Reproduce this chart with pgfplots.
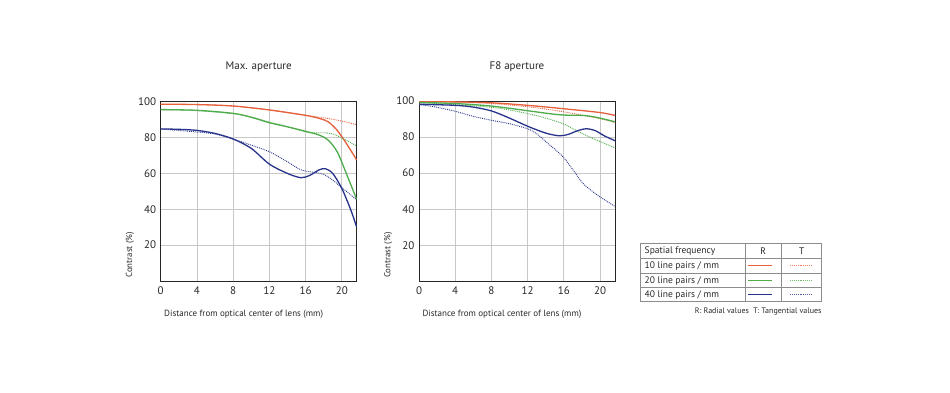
\documentclass[border=0pt]{standalone}
\usepackage{pgfplots}
\pgfplotsset{compat=1.18}
\usepackage{fontspec}
\setmainfont{PT Sans}
\definecolor{lred}{RGB}{230,96,60}
\definecolor{lgreen}{RGB}{78,172,74}
\definecolor{lblue}{RGB}{40,52,140}
\definecolor{ctxt}{RGB}{40,40,40}
\definecolor{cgrid}{RGB}{200,200,200}
\pgfplotsset{
  mtf/.style={
    scale only axis, width=196pt, height=179.3pt,
    xmin=0, xmax=21.65, ymin=0, ymax=100,
    xtick={0,4,8,12,16,20}, ytick={20,40,60,80,100},
    grid=major, major grid style={cgrid, line width=0.8pt},
    axis line style={black!85, line width=0.9pt},
    major tick length=0pt,
    /pgf/number format/assume math mode=true,
    tick label style={font=\fontsize{11}{12}\selectfont, text=ctxt},
    xticklabel style={yshift=-2pt},
    yticklabel style={xshift=-1pt},
    title style={at={(axis description cs:0.5,1.164)}, anchor=center, font=\fontsize{11}{13}\selectfont, text=ctxt},
    xlabel style={at={(axis description cs:0,-0.184)}, anchor=west, font=\fontsize{9}{10}\selectfont, text=ctxt},
    ylabel style={at={(axis description cs:-0.157,0)}, anchor=west, rotate=0, font=\fontsize{8.8}{10}\selectfont, text=ctxt},
    xlabel={Distance from optical center of lens (mm)},
    ylabel={Contrast (\%)},
  },
  R/.style={smooth, line width=1.3pt, tension=0.5},
  T/.style={smooth, line width=0.9pt, densely dotted, tension=0.5},
}
\begin{document}
\begin{tikzpicture}[x=1pt,y=1pt]
\path[use as bounding box, fill=white] (0,0) rectangle (950,392);
% Left: Max. aperture
\begin{axis}[mtf, at={(160.7pt,111pt)}, anchor=south west, title={Max. aperture}]
\addplot[R, color=lred] coordinates {(0,98.6) (4,98.4) (8,97.6) (12,95.4) (16,92.4) (17.5,90.7) (18.5,88.8) (19.5,84) (20.5,76.8) (21.65,67.5)};
\addplot[T, color=lred] coordinates {(0,98.6) (4,98.4) (8,97.6) (12,95.4) (16,92.4) (17.5,91.4) (19,90.2) (20.5,88.6) (21.65,87.2)};
\addplot[R, color=lgreen] coordinates {(0,95.6) (4,95.2) (8,93.5) (10,91.3) (12,88.3) (14,86) (16,83.5) (17.5,81.4) (18.5,78.6) (19.5,72) (20.5,60) (21.65,45.5)};
\addplot[T, color=lgreen] coordinates {(0,95.6) (4,95) (8,93.3) (10,91.5) (12,88.6) (14,86) (16,83.2) (17,82.6) (18,82.7) (19,82) (20,79.8) (21.65,75.3)};
\addplot[R, color=lblue] coordinates {(0,84.8) (2,84.6) (4,84) (6,82.3) (8,79.2) (10,74) (12,65.2) (14,60) (15.5,57.6) (16.5,59) (17.5,62) (18.2,62.6) (19,60) (20,51.7) (21,39.6) (21.65,30)};
\addplot[T, color=lblue] coordinates {(0,84.8) (4,83.1) (6,82) (8,79.2) (10,75.8) (12,72.1) (14,66.5) (15.5,62) (17,60.6) (18,59.5) (19,56.3) (20,52) (21,48) (21.65,45.2)};
\end{axis}
% Right: F8 aperture
\begin{axis}[mtf, height=180.3pt, at={(419pt,110.7pt)}, anchor=south west, title={F8 aperture},
  title style={at={(axis description cs:0.5,1.158)}},
  xlabel style={at={(axis description cs:0,-0.183)}}]
\addplot[R, color=lred] coordinates {(0,99.6) (4,99.5) (8,99) (12,97.6) (16,95.7) (20,93.6) (21.65,92)};
\addplot[T, color=lred] coordinates {(0,99.6) (4,99.4) (8,98.6) (12,96.8) (16,94) (20,90.2) (21.65,88)};
\addplot[R, color=lgreen] coordinates {(0,99.2) (4,98.6) (8,97.2) (12,94.6) (15,92.6) (16,92.2) (18,92) (19,91.5) (20,90.5) (21.65,88.5)};
\addplot[T, color=lgreen] coordinates {(0,99.1) (4,98) (8,96.5) (10,95) (12,93) (14,90.5) (16,87.2) (18,82) (20,77.5) (21.65,74)};
\addplot[R, color=lblue] coordinates {(0,98.2) (4,97.6) (6,96.6) (8,94.5) (10,90.5) (12,86) (14,82.2) (15.5,80.7) (16.5,81.5) (17.5,83.5) (18.5,84.6) (19.5,83.5) (20.5,80.6) (21.65,78)};
\addplot[T, color=lblue] coordinates {(0,98) (1,97.4) (2,96.5) (4,94.3) (6,91.5) (8,89.3) (10,87.4) (12,84.6) (13,81.8) (14,77.5) (16,68.5) (18,55) (19,50.5) (20,46.8) (21.65,41.5)};
\end{axis}
% Legend table
\begin{scope}[draw=black!45, line width=0.6pt]
\draw (640,90.3) rectangle (821.7,148.7);
\draw (640,134) -- (821.7,134);
\draw (640,118.5) -- (821.7,118.5);
\draw (640,104.3) -- (821.7,104.3);
\draw (745,90.3) -- (745,148.7);
\draw (781.7,90.3) -- (781.7,148.7);
\end{scope}
\begin{scope}[font=\fontsize{9.5}{11}\selectfont, text=ctxt]
\node[anchor=west, inner sep=0] at (644.5,141.3) {Spatial frequency};
\node[anchor=west, inner sep=0] at (644.5,126.3) {10 line pairs / mm};
\node[anchor=west, inner sep=0] at (644.5,111.4) {20 line pairs / mm};
\node[anchor=west, inner sep=0] at (644.5,97.3) {40 line pairs / mm};
\node[inner sep=0] at (763.3,141.3) {R};
\node[inner sep=0] at (801.8,141.3) {T};
\end{scope}
\draw[draw=lred!80, line width=0.9pt, densely dotted] (790,126.5) -- (812.7,126.5);
\draw[draw=lgreen!80, line width=0.9pt, densely dotted] (790,111.5) -- (812.7,111.5);
\draw[draw=lblue!80, line width=0.9pt, densely dotted] (790,97.5) -- (812.7,97.5);
\draw[draw=lred, line width=1.7pt] (748.3,126.5) -- (771.7,126.5);
\draw[draw=lgreen, line width=1.5pt] (748.3,111.5) -- (771.7,111.5);
\draw[draw=lblue, line width=1.5pt] (748.3,97.5) -- (771.7,97.5);
\node[anchor=east, inner sep=0, font=\fontsize{8}{9}\selectfont, text=ctxt] at (821.7,80.3) {R: Radial values\ \ T: Tangential values};
\end{tikzpicture}
\end{document}
